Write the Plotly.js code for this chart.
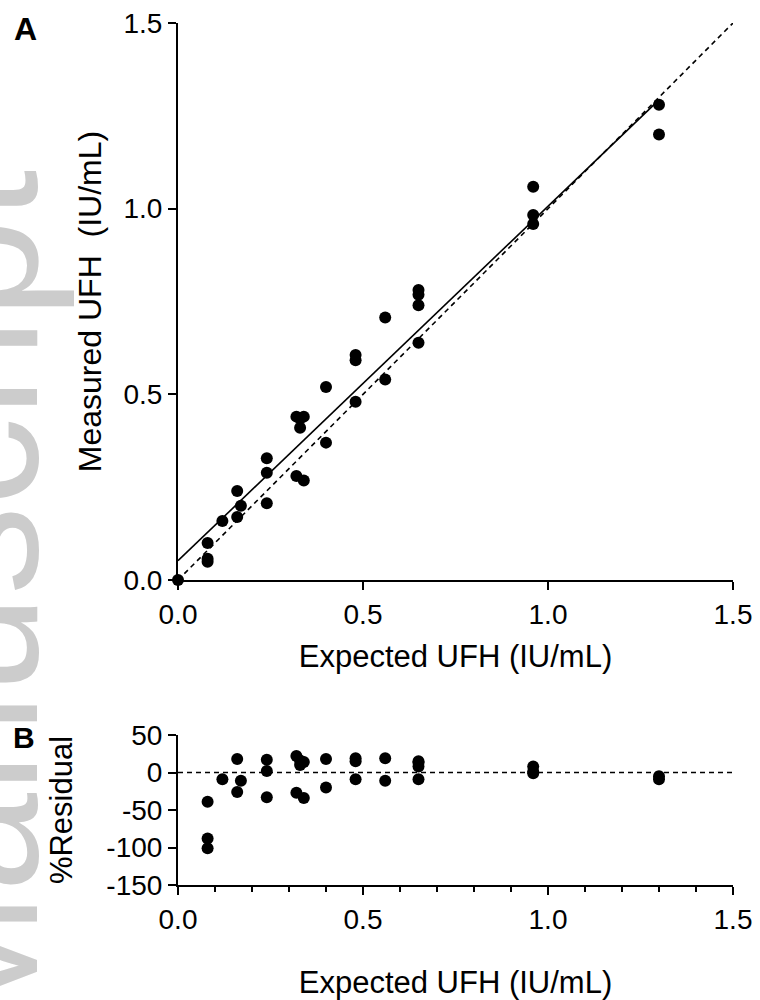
<!DOCTYPE html>
<html>
<head>
<meta charset="utf-8">
<script src="https://cdn.plot.ly/plotly-3.0.1.min.js"></script>
<style>
html,body{margin:0;padding:0;background:#fff;}
#chart{width:760px;height:1000px;}
</style>
</head>
<body>
<div id="chart"></div>
<script>
// Panel A: measured vs expected UFH (IU/mL)
const expectedA = [0, 0.08,0.08,0.08, 0.12, 0.16,0.16, 0.17, 0.24,0.24,0.24, 0.32,0.32, 0.33,0.33, 0.34,0.34, 0.40,0.40, 0.48,0.48,0.48, 0.56,0.56, 0.65,0.65,0.65,0.65, 0.96,0.96,0.96, 1.30,1.30];
const measuredA = [0, 0.10,0.057,0.049, 0.159, 0.24,0.17, 0.20, 0.328,0.289,0.207, 0.44,0.28, 0.435,0.41, 0.44,0.268, 0.52,0.37, 0.606,0.592,0.48, 0.707,0.54, 0.781,0.768,0.74,0.639, 1.059,0.983,0.959, 1.28,1.20];

// Regression line (solid) and line of identity (dashed)
const fitX = [0, 1.30];
const fitY = [0.052, 1.293];
const identityX = [0, 1.5];
const identityY = [0, 1.5];

// Panel B: % residual vs expected UFH
const expectedB = [0.08,0.08,0.08, 0.12, 0.16,0.16, 0.17, 0.24,0.24,0.24, 0.32,0.32, 0.33,0.33, 0.34,0.34, 0.40,0.40, 0.48,0.48,0.48, 0.56,0.56, 0.65,0.65,0.65,0.65, 0.96,0.96,0.96, 1.30,1.30];
const residualB = [-39,-88,-101, -9, 18,-26, -11, 17,2,-33, 22,-27, 16,10, 14,-34, 18,-20, 19,15,-9, 19,-11, 15,13,8,-9, 8,1,-1, -5,-9];
const zeroX = [0, 1.5];
const zeroY = [0, 0];

// Tick labels
const uFHTickVals = [0, 0.5, 1.0, 1.5];
const uFHTickText = ["0.0", "0.5", "1.0", "1.5"];
const residualTickVals = [-150, -100, -50, 0, 50];
const residualTickText = ["-150", "-100", "-50", "0", "50"];

const FONT = "Liberation Sans, Arial, sans-serif";
const marker = {color: "#000", size: 12, line: {width: 0}};

const traces = [
  {x: identityX, y: identityY, xaxis: "x", yaxis: "y", mode: "lines",
   line: {color: "#000", width: 1.6, dash: "5px,4px"}, hoverinfo: "skip", cliponaxis: false},
  {x: fitX, y: fitY, xaxis: "x", yaxis: "y", mode: "lines",
   line: {color: "#000", width: 1.6}, hoverinfo: "skip", cliponaxis: false},
  {x: expectedA, y: measuredA, xaxis: "x", yaxis: "y", mode: "markers",
   marker: marker, cliponaxis: false},
  {x: zeroX, y: zeroY, xaxis: "x2", yaxis: "y2", mode: "lines",
   line: {color: "#000", width: 1.4, dash: "5px,4px"}, hoverinfo: "skip", cliponaxis: false},
  {x: expectedB, y: residualB, xaxis: "x2", yaxis: "y2", mode: "markers",
   marker: marker, cliponaxis: false}
];

const axisBase = {
  showline: true, linecolor: "#000", linewidth: 2,
  ticks: "outside", ticklen: 8, tickwidth: 2, tickcolor: "#000",
  showgrid: false, zeroline: false, fixedrange: true,
  tickfont: {family: FONT, size: 28, color: "#000"}
};

const layout = {
  width: 760, height: 1000,
  margin: {l: 178, r: 27, t: 23, b: 115},
  paper_bgcolor: "#fff", plot_bgcolor: "#fff",
  showlegend: false,
  font: {family: FONT, color: "#000"},
  xaxis: Object.assign({}, axisBase, {
    domain: [0, 1], anchor: "y", range: [0, 1.5],
    tickmode: "array", tickvals: uFHTickVals, ticktext: uFHTickText,
    title: {text: "Expected UFH (IU/mL)", font: {family: FONT, size: 31, color: "#000"}, standoff: 17}
  }),
  yaxis: Object.assign({}, axisBase, {
    domain: [0.3538, 1], anchor: "x", range: [0, 1.5],
    tickmode: "array", tickvals: uFHTickVals, ticktext: uFHTickText,
    title: {text: "Measured UFH\u00a0 (IU/mL)", font: {family: FONT, size: 32, color: "#000"}, standoff: 12}
  }),
  xaxis2: Object.assign({}, axisBase, {
    domain: [0, 1], anchor: "y2", range: [0, 1.5],
    tickmode: "array", tickvals: uFHTickVals, ticktext: uFHTickText,
    minor: {tickmode: "linear", tick0: 0, dtick: 0.1, ticks: "outside", ticklen: 5, tickwidth: 2, tickcolor: "#000", showgrid: false},
    title: {text: "Expected UFH (IU/mL)", font: {family: FONT, size: 31, color: "#000"}, standoff: 44}
  }),
  yaxis2: Object.assign({}, axisBase, {
    domain: [0, 0.174], anchor: "x2", range: [-150, 50],
    tickmode: "array", tickvals: residualTickVals, ticktext: residualTickText,
    title: {text: "%Residual", font: {family: FONT, size: 31, color: "#000"}, standoff: 24}
  }),
  annotations: [
    {text: "Manuscript", xref: "paper", yref: "paper", x: -0.365, y: 0.325,
     xanchor: "center", yanchor: "middle", textangle: -90, showarrow: false,
     font: {family: FONT, size: 178, color: "#cccccc"}},
    {text: "<b>A</b>", xref: "paper", yref: "paper", x: (25 - 178) / 555, y: (885 - 29) / 862,
     xanchor: "center", yanchor: "middle", showarrow: false,
     font: {family: FONT, size: 32, color: "#000"}},
    {text: "<b>B</b>", xref: "paper", yref: "paper", x: (24 - 178) / 555, y: (885 - 737) / 862,
     xanchor: "center", yanchor: "middle", showarrow: false,
     font: {family: FONT, size: 30, color: "#000"}}
  ]
};

Plotly.newPlot("chart", traces, layout, {staticPlot: true, displayModeBar: false});
</script>
</body>
</html>
